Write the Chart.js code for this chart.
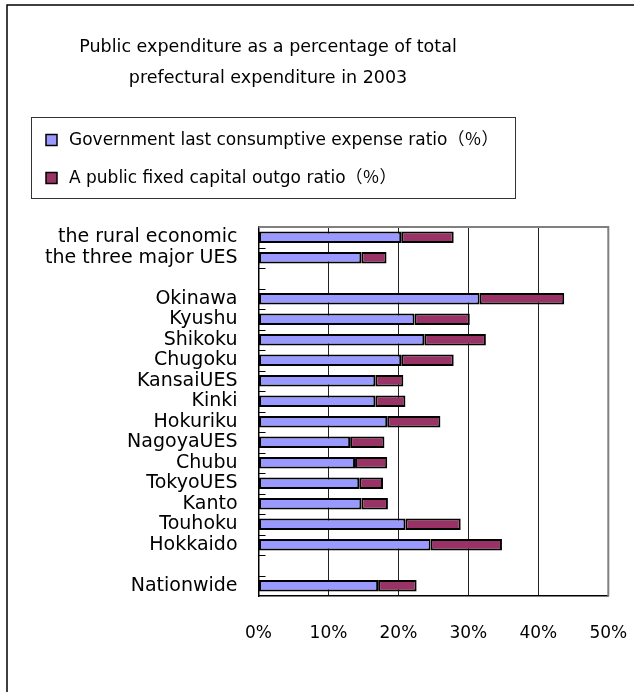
<!DOCTYPE html>
<html>
<head>
<meta charset="utf-8">
<script src="https://cdn.jsdelivr.net/npm/chart.js@4"></script>
<style>
    html, body { margin: 0; padding: 0; background: #fff; }
    #wrap { width: 634px; height: 692px; position: relative; }
</style>
</head>
<body>
<div id="wrap"><canvas id="chart" width="634" height="692"></canvas></div>
<script>
const regions =
[
    'the rural economic', 'the three major UES', '',
    'Okinawa', 'Kyushu', 'Shikoku', 'Chugoku', 'KansaiUES', 'Kinki',
    'Hokuriku', 'NagoyaUES', 'Chubu', 'TokyoUES', 'Kanto', 'Touhoku', 'Hokkaido',
    '', 'Nationwide'
];
const consumption =
[
    20.4, 14.7, null,
    31.6, 22.3, 23.7, 20.4, 16.7, 16.7,
    18.4, 13.1, 13.8, 14.4, 14.7, 21.0, 24.6,
    null, 17.1
];
const capital =
[
    7.5, 3.6, null,
    12.1, 7.9, 8.8, 7.5, 4.0, 4.3,
    7.6, 4.9, 4.6, 3.4, 3.8, 7.9, 10.2,
    null, 5.5
];
const seriesNames =
[
    'Government last consumptive expense ratio\uFF08\uFF05\uFF09',
    'A public fixed capital outgo ratio\uFF08\uFF05\uFF09'
];
const xTicks = [0, 10, 20, 30, 40, 50];

const FONT = '"DejaVu Sans", "Noto Sans CJK JP", sans-serif';
const BLUE = '#9999ff';
const WINE = '#993366';

// plot box placement
const PLOT_LEFT = 258.5;
const PLOT_RIGHT_GAP = 25.7;
const PLOT_BOTTOM = 596;
const TITLE_CENTER = 268;

const frame =
{
    id: 'frame',
    afterLayout(chart)
    {
        // the original chart is wider than the crop, so the title sits left of centre
        const t = chart.titleBlock;
        t.left = 0;
        t.right = TITLE_CENTER * 2;
        t.width = t.right - t.left;
    },
    beforeDraw(chart)
    {
        const ctx = chart.ctx;
        ctx.save();
        ctx.strokeStyle = '#000';
        ctx.lineWidth = 1.5;
        ctx.beginPath();
        ctx.moveTo(7, 700);
        ctx.lineTo(7, 5);
        ctx.lineTo(640, 5);
        ctx.stroke();
        ctx.restore();
    },
    afterDraw(chart)
    {
        const ctx = chart.ctx;
        const area = chart.chartArea;
        const y = chart.scales.y;
        ctx.save();

        // top and right edges of the plot
        ctx.strokeStyle = '#808080';
        ctx.lineWidth = 2;
        ctx.beginPath();
        ctx.moveTo(area.left, area.top);
        ctx.lineTo(area.right, area.top);
        ctx.lineTo(area.right, area.bottom);
        ctx.stroke();

        // inside tick marks between categories
        ctx.strokeStyle = '#000';
        ctx.lineWidth = 1;
        ctx.beginPath();
        for (let i = 1; i < regions.length; i++)
        {
            const yy = Math.round((y.getPixelForValue(i - 1) + y.getPixelForValue(i)) / 2) + 0.5;
            ctx.moveTo(area.left, yy);
            ctx.lineTo(area.left + 7, yy);
        }
        ctx.stroke();

        // legend box
        ctx.strokeStyle = '#333';
        ctx.lineWidth = 1;
        ctx.strokeRect(31.5, 117.5, 484, 81);
        ctx.font = '17px ' + FONT;
        ctx.textBaseline = 'middle';
        ctx.textAlign = 'left';
        const rows = [140, 178];
        chart.data.datasets.forEach((ds, i) =>
        {
            ctx.fillStyle = ds.backgroundColor;
            ctx.fillRect(46, rows[i] - 5.5, 11, 11);
            ctx.strokeStyle = '#000';
            ctx.lineWidth = 1.5;
            ctx.strokeRect(46, rows[i] - 5.5, 11, 11);
            ctx.fillStyle = '#000';
            ctx.fillText(ds.label, 69, rows[i] + 1);
        });
        ctx.restore();
    }
};

new Chart(document.getElementById('chart'),
{
    type: 'bar',
    data:
    {
        labels: regions,
        datasets:
        [
            {
                label: seriesNames[0],
                data: consumption,
                backgroundColor: BLUE,
                borderColor: '#000',
                borderWidth: 2,
                borderSkipped: false
            },
            {
                label: seriesNames[1],
                data: capital,
                backgroundColor: WINE,
                borderColor: '#000',
                borderWidth: 2,
                borderSkipped: false
            }
        ]
    },
    options:
    {
        indexAxis: 'y',
        responsive: false,
        animation: false,
        barPercentage: 0.56,
        categoryPercentage: 1,
        layout: { padding: 0 },
        plugins:
        {
            legend: { display: false },
            tooltip: { enabled: false },
            title:
            {
                display: true,
                text: ['Public expenditure as a percentage of total', 'prefectural expenditure in 2003'],
                color: '#000',
                font: { family: FONT, size: 17.5, weight: 'normal', lineHeight: '31px' },
                padding: { top: 31.5, bottom: 133.5 }
            }
        },
        scales:
        {
            x:
            {
                stacked: true,
                min: 0,
                max: 50,
                afterBuildTicks: (scale) => { scale.ticks = xTicks.map(v => ({ value: v })); },
                afterFit: (scale) =>
                {
                    scale.height = 692 - PLOT_BOTTOM;
                    scale.paddingLeft = 0;
                    scale.paddingRight = PLOT_RIGHT_GAP;
                },
                ticks:
                {
                    color: '#000',
                    padding: 27,
                    font: { family: FONT, size: 17 },
                    callback: (v) => v + '%'
                },
                grid: { color: '#222', drawTicks: false },
                border: { color: '#000', width: 1.5 }
            },
            y:
            {
                stacked: true,
                afterFit: (scale) => { scale.width = PLOT_LEFT; },
                ticks:
                {
                    color: '#000',
                    padding: 21,
                    autoSkip: false,
                    font: { family: FONT, size: 19, lineHeight: 1 }
                },
                grid: { display: false, drawTicks: false },
                border: { color: '#000', width: 1.5 }
            }
        }
    },
    plugins: [frame]
});
</script>
</body>
</html>
